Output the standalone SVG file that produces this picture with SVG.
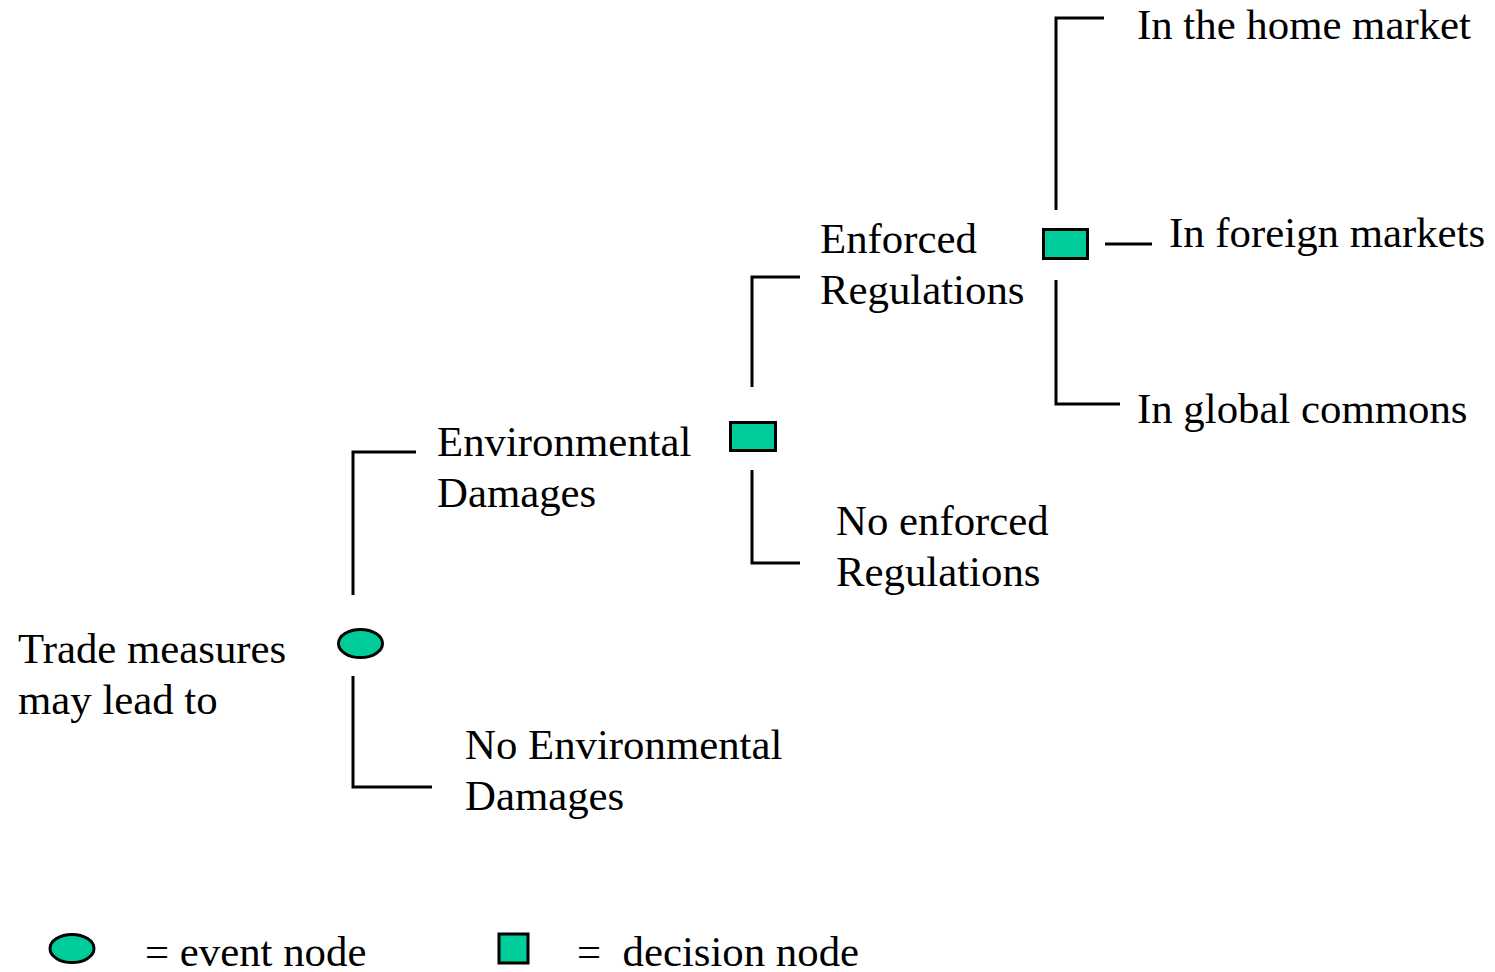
<svg xmlns="http://www.w3.org/2000/svg" width="1495" height="972" viewBox="0 0 1495 972">
<style>
text{font-family:"Liberation Serif","Times New Roman",serif;font-size:42.8px;fill:#000}
.ln{stroke:#000;stroke-width:3;fill:none}
.nd{fill:#00CC99;stroke:#000;stroke-width:3}
</style>
<rect width="1495" height="972" fill="#fff"/>
<g id="connectors">
<polyline class="ln" points="416,452 353,452 353,595"/>
<polyline class="ln" points="353,676 353,787 432,787"/>
<polyline class="ln" points="800,277 752,277 752,387"/>
<polyline class="ln" points="752,470 752,563 800,563"/>
<polyline class="ln" points="1104,18 1056,18 1056,210"/>
<line class="ln" x1="1105" y1="244" x2="1152" y2="244"/>
<polyline class="ln" points="1056,280 1056,404 1120,404"/>
</g>
<g id="root">
<ellipse class="nd" cx="360.5" cy="643.5" rx="22" ry="14"/>
<text x="18" y="663">Trade measures</text>
<text x="18" y="714">may lead to</text>
</g>
<g id="env-damages">
<text x="437" y="456">Environmental</text>
<text x="437" y="507">Damages</text>
<rect class="nd" x="730.5" y="422.5" width="45" height="28"/>
</g>
<g id="no-env-damages">
<text x="465" y="759">No Environmental</text>
<text x="465" y="810">Damages</text>
</g>
<g id="enforced">
<text x="820" y="253">Enforced</text>
<text x="820" y="304">Regulations</text>
<rect class="nd" x="1043.5" y="229.5" width="44" height="29"/>
</g>
<g id="no-enforced">
<text x="836" y="535">No enforced</text>
<text x="836" y="586">Regulations</text>
</g>
<g id="home"><text x="1137" y="39">In the home market</text></g>
<g id="foreign"><text x="1169" y="247">In foreign markets</text></g>
<g id="global"><text x="1137" y="423">In global commons</text></g>
<g id="legend">
<ellipse class="nd" cx="72" cy="948.5" rx="22" ry="14"/>
<text x="145" y="966">= event node</text>
<rect class="nd" x="499" y="934" width="29" height="29"/>
<text x="577" y="966" xml:space="preserve">=  decision node</text>
</g>
</svg>
